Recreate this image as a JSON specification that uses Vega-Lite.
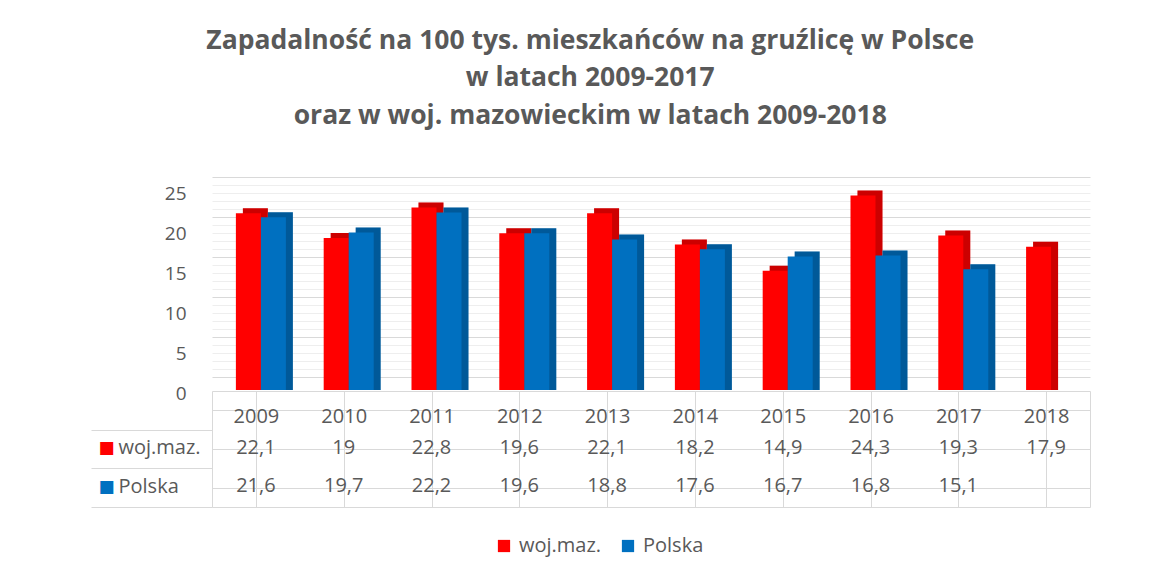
{
  "$schema": "https://vega.github.io/schema/vega-lite/v6.json",
  "background": "white",
  "padding": {"left": 90, "top": 27, "right": 10, "bottom": 5},
  "title": {
    "text": ["Zapadalność  na 100 tys. mieszkańców na gruźlicę w Polsce", "w latach 2009-2017", "oraz  w woj. mazowieckim w latach 2009-2018"],
    "font": "Open Sans", "fontSize": 26.5, "fontWeight": "bold", "color": "#595959",
    "lineHeight": 37.5, "anchor": "middle", "offset": 55
  },
  "datasets": {
    "d": [
      {"year": "2009", "series": "woj.maz.", "value": 22.1},
      {"year": "2010", "series": "woj.maz.", "value": 19},
      {"year": "2011", "series": "woj.maz.", "value": 22.8},
      {"year": "2012", "series": "woj.maz.", "value": 19.6},
      {"year": "2013", "series": "woj.maz.", "value": 22.1},
      {"year": "2014", "series": "woj.maz.", "value": 18.2},
      {"year": "2015", "series": "woj.maz.", "value": 14.9},
      {"year": "2016", "series": "woj.maz.", "value": 24.3},
      {"year": "2017", "series": "woj.maz.", "value": 19.3},
      {"year": "2018", "series": "woj.maz.", "value": 17.9},
      {"year": "2009", "series": "Polska", "value": 21.6},
      {"year": "2010", "series": "Polska", "value": 19.7},
      {"year": "2011", "series": "Polska", "value": 22.2},
      {"year": "2012", "series": "Polska", "value": 19.6},
      {"year": "2013", "series": "Polska", "value": 18.8},
      {"year": "2014", "series": "Polska", "value": 17.6},
      {"year": "2015", "series": "Polska", "value": 16.7},
      {"year": "2016", "series": "Polska", "value": 16.8},
      {"year": "2017", "series": "Polska", "value": 15.1}
    ]
  },
  "spacing": 1,
  "bounds": "flush",
  "vconcat": [
    {
      "width": 878,
      "height": 200,
      "view": {"stroke": null},
      "data": {"name": "d"},
      "encoding": {
        "x": {"field": "year", "type": "ordinal", "axis": null, "scale": {"paddingInner": 0, "paddingOuter": 0}},
        "color": {
          "field": "series", "type": "nominal",
          "scale": {"domain": ["woj.maz.", "Polska"], "range": ["#FF0000", "#0070C0"]},
          "legend": {"orient": "none", "legendX": 282, "legendY": 346, "direction": "horizontal", "title": null, "symbolType": "square", "symbolSize": 150, "symbolStrokeWidth": 0, "labelFont": "Open Sans", "labelFontSize": 20, "labelColor": "#595959", "labelOffset": 5, "columnPadding": 16}
        }
      },
      "layer": [
        {
          "mark": {"type": "bar", "yOffset": -5, "y2Offset": -5},
          "encoding": {
            "xOffset": {"field": "series", "type": "nominal", "scale": {"domain": ["woj.maz.", "Polska"], "paddingOuter": 0.756, "paddingInner": 0, "align": 0.817}},
            "y": {"field": "value", "type": "quantitative", "stack": null, "scale": {"domain": [0, 25], "nice": false},
              "axis": {"orient": "left", "values": [0,1,2,3,4,5,6,7,8,9,10,11,12,13,14,15,16,17,18,19,20,21,22,23,24,25], "grid": true,
                "gridColor": {"condition": {"test": "datum.value % 5 === 0", "value": "#d9d9d9"}, "value": "#eeeeee"},
                "tickOffset": -13, "labels": false, "ticks": false, "domain": false, "title": null}}
          }
        },
        {
          "mark": {"type": "bar", "yOffset": -5, "y2Offset": -5, "opacity": 0.2},
          "encoding": {
            "xOffset": {"field": "series", "type": "nominal", "scale": {"domain": ["woj.maz.", "Polska"], "paddingOuter": 0.756, "paddingInner": 0, "align": 0.817}},
            "color": {"value": "#000000"},
            "y": {"field": "value", "type": "quantitative", "stack": null, "scale": {"domain": [0, 25], "nice": false}, "axis": null}
          }
        },
        {
          "mark": {"type": "bar"},
          "encoding": {
            "xOffset": {"field": "series", "type": "nominal", "scale": {"domain": ["woj.maz.", "Polska"], "paddingOuter": 0.756, "paddingInner": 0, "align": 0.632}},
            "y": {"field": "value", "type": "quantitative", "stack": null, "scale": {"domain": [0, 25], "nice": false},
              "axis": {"orient": "left", "values": [0, 5, 10, 15, 20, 25], "grid": false, "ticks": false, "domain": false, "labelPadding": 26, "labelOffset": 3, "labelFont": "Open Sans", "labelFontSize": 19, "labelColor": "#595959", "title": null}}
          }
        }
      ],
      "resolve": {"axis": {"y": "independent"}, "scale": {"xOffset": "independent"}}
    },
    {
      "width": 878,
      "height": 116,
      "view": {"stroke": "#d9d9d9"},
      "data": {"name": "d"},
      "layer": [
        {
          "mark": {"type": "text", "font": "Open Sans", "fontSize": 20, "color": "#595959", "dy": -1.5},
          "encoding": {
            "x": {"field": "year", "type": "ordinal", "scale": {"paddingInner": 0, "paddingOuter": 0},
              "axis": {"orient": "top", "bandPosition": 0, "grid": true, "gridColor": "#d9d9d9", "ticks": false, "domain": false, "labelPadding": -25, "labelBaseline": "middle", "labelAlign": "center", "labelAngle": 0, "labelFont": "Open Sans", "labelFontSize": 20, "labelColor": "#595959", "title": null}},
            "y": {"field": "series", "type": "nominal", "scale": {"domain": ["hdr", "woj.maz.", "Polska"], "paddingInner": 0, "paddingOuter": 0},
              "axis": {"orient": "left", "grid": false, "ticks": true, "tickSize": 121, "tickColor": "#d9d9d9", "tickOffset": 19.35, "domain": false,
                "labelExpr": "datum.value === 'hdr' ? '' : datum.value", "labelAlign": "left", "labelPadding": -27, "labelOffset": -21, "labelFont": "Open Sans", "labelFontSize": 20, "labelColor": "#595959", "title": null}},
            "text": {"field": "value", "type": "quantitative", "format": "~g"}
          }
        },
        {
          "mark": {"type": "text", "text": ""},
          "encoding": {
            "y": {"field": "series", "type": "nominal", "scale": {"domain": ["hdr", "woj.maz.", "Polska"], "paddingInner": 0, "paddingOuter": 0},
              "axis": {"orient": "left", "ticks": false, "domain": false, "grid": true, "gridColor": "#d9d9d9", "bandPosition": 1,
                "labelExpr": "datum.value === 'hdr' ? '' : '■'", "labelAlign": "left", "labelPadding": 114, "labelFont": "DejaVu Sans", "labelFontSize": 17, "labelOffset": -1.5,
                "labelColor": {"condition": {"test": "datum.value === 'woj.maz.'", "value": "#FF0000"}, "value": "#0070C0"}, "title": null}}
          }
        }
      ],
      "resolve": {"axis": {"y": "independent"}}
    }
  ],
  "config": {
    "locale": {"number": {"decimal": ",", "thousands": "\u00a0", "grouping": [3], "currency": ["", " zł"]}}
  }
}
